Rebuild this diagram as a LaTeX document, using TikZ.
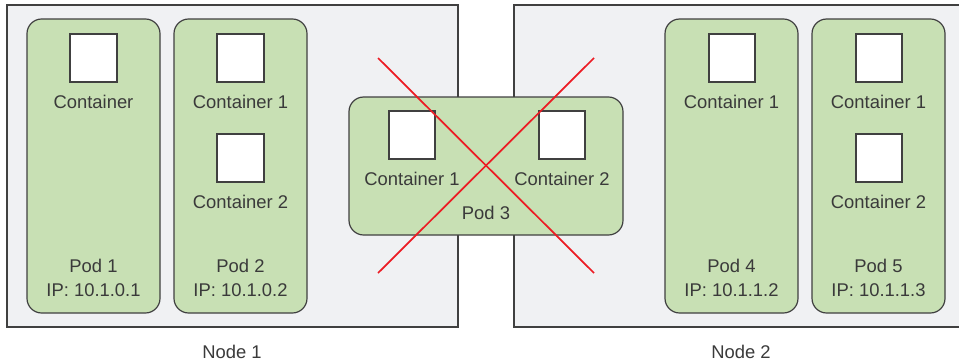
\documentclass[tikz,border=0pt]{standalone}
\usepackage{fontspec}
\setmainfont{Liberation Sans}
\definecolor{nodegray}{HTML}{F0F1F3}
\definecolor{podgreen}{HTML}{C8E0B4}
\definecolor{linegray}{HTML}{404040}
\definecolor{crossred}{HTML}{EC1C24}
\begin{document}
\begin{tikzpicture}[x=0.75pt,y=-0.75pt,
  every node/.style={font=\fontsize{13.8}{16}\selectfont, text=linegray!90!black},
  hostbox/.style={draw=linegray, fill=nodegray, line width=0.9pt},
  podbox/.style={draw=linegray, fill=podgreen, line width=0.9pt, rounded corners=11pt},
  ctrbox/.style={draw=linegray, fill=white, line width=0.9pt},
  cross/.style={draw=crossred, line width=1.3pt}]
\useasboundingbox (0,0) rectangle (959,361);
% the two nodes
\draw [hostbox] (7,5) rectangle (458,327);
\node (N1) at (232,352) {Node 1};
\draw [hostbox] (514,5) rectangle (965,327);
\node (N2) at (741,352) {Node 2};
% pods on node 1
\draw [podbox] (27,19) rectangle (160,313);
\draw [ctrbox] (70,34) rectangle (117,82);
\node (C11) at (93.5,102) {Container};
\node (P1) at (93.5,266) {Pod 1};
\node (IP1) at (93.5,290) {IP: 10.1.0.1};
\draw [podbox] (174,19) rectangle (307,313);
\draw [ctrbox] (217,34) rectangle (264,82);
\node (C21) at (240.5,102) {Container 1};
\draw [ctrbox] (217,134) rectangle (264,182);
\node (C22) at (240.5,202) {Container 2};
\node (P2) at (240.5,266) {Pod 2};
\node (IP2) at (240.5,290) {IP: 10.1.0.2};
% pods on node 2
\draw [podbox] (665,19) rectangle (798,313);
\draw [ctrbox] (709,34) rectangle (755,82);
\node (C41) at (731.5,102) {Container 1};
\node (P4) at (731.5,266) {Pod 4};
\node (IP4) at (731.5,290) {IP: 10.1.1.2};
\draw [podbox] (812,19) rectangle (945,313);
\draw [ctrbox] (856,34) rectangle (902,82);
\node (C51) at (878.5,102) {Container 1};
\draw [ctrbox] (856,134) rectangle (902,182);
\node (C52) at (878.5,202) {Container 2};
\node (P5) at (878.5,266) {Pod 5};
\node (IP5) at (878.5,290) {IP: 10.1.1.3};
% pod 3, crossed out
\draw [podbox] (349,97) rectangle (623,235);
\draw [ctrbox] (389,111) rectangle (435,159);
\node (C31) at (412,179) {Container 1};
\draw [ctrbox] (539,111) rectangle (585,159);
\node (C32) at (562,179) {Container 2};
\node (P3) at (486,213) {Pod 3};
\coordinate (xa) at (378,58);
\coordinate (xb) at (594,273);
\coordinate (xc) at (378,273);
\coordinate (xd) at (594,58);
\draw [cross] (xa) -- (xb);
\draw [cross] (xc) -- (xd);
\end{tikzpicture}
\end{document}
